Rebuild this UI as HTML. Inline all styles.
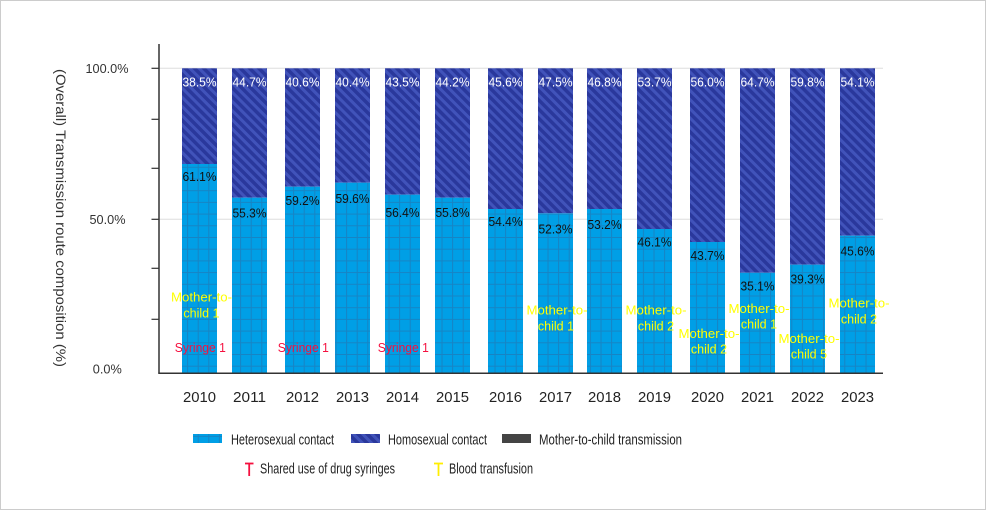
<!DOCTYPE html>
<html><head><meta charset="utf-8"><style>
html,body{margin:0;padding:0;background:#fff;}
svg{display:block;font-family:"Liberation Sans",sans-serif;}
</style></head><body>
<svg width="986" height="510" viewBox="0 0 986 510" xmlns="http://www.w3.org/2000/svg">
<defs>
<pattern id="het" patternUnits="userSpaceOnUse" width="10.6" height="11.7" x="6.9" y="3">
<rect width="10.6" height="11.7" fill="#009fe6"/>
<path d="M0 0.5H10.6M0.5 0V11.7" stroke="#1784c4" stroke-width="1"/>
</pattern>
<pattern id="hom" patternUnits="userSpaceOnUse" width="6.5" height="6.5" patternTransform="rotate(-45)">
<rect width="6.5" height="6.5" fill="#2a389c"/>
<rect width="3" height="6.5" fill="#4153ba"/>
</pattern>
</defs>
<rect x="0.5" y="0.5" width="985" height="509" fill="#fff" stroke="#cccccc" stroke-width="1"/>

<!-- gridlines -->
<line x1="159" y1="68.3" x2="883" y2="68.3" stroke="#dddddd" stroke-width="1"/>
<line x1="159" y1="219.3" x2="883" y2="219.3" stroke="#dddddd" stroke-width="1"/>

<!-- bars -->
<g>
<rect x="182" y="68.3" width="35" height="95.7" fill="url(#hom)"/><rect x="182" y="164" width="35" height="209" fill="url(#het)"/>
<rect x="232" y="68.3" width="35" height="129.4" fill="url(#hom)"/><rect x="232" y="197.7" width="35" height="175.3" fill="url(#het)"/>
<rect x="285" y="68.3" width="35" height="118.4" fill="url(#hom)"/><rect x="285" y="186.7" width="35" height="186.3" fill="url(#het)"/>
<rect x="335" y="68.3" width="35" height="114.4" fill="url(#hom)"/><rect x="335" y="182.7" width="35" height="190.3" fill="url(#het)"/>
<rect x="385" y="68.3" width="35" height="126.4" fill="url(#hom)"/><rect x="385" y="194.7" width="35" height="178.3" fill="url(#het)"/>
<rect x="435" y="68.3" width="35" height="129.4" fill="url(#hom)"/><rect x="435" y="197.7" width="35" height="175.3" fill="url(#het)"/>
<rect x="488" y="68.3" width="35" height="140.7" fill="url(#hom)"/><rect x="488" y="209" width="35" height="164" fill="url(#het)"/>
<rect x="538" y="68.3" width="35" height="145" fill="url(#hom)"/><rect x="538" y="213.3" width="35" height="159.7" fill="url(#het)"/>
<rect x="587" y="68.3" width="35" height="140.7" fill="url(#hom)"/><rect x="587" y="209" width="35" height="164" fill="url(#het)"/>
<rect x="637" y="68.3" width="35" height="160.7" fill="url(#hom)"/><rect x="637" y="229" width="35" height="144" fill="url(#het)"/>
<rect x="690" y="68.3" width="35" height="173.7" fill="url(#hom)"/><rect x="690" y="242" width="35" height="131" fill="url(#het)"/>
<rect x="740" y="68.3" width="35" height="204.4" fill="url(#hom)"/><rect x="740" y="272.7" width="35" height="100.3" fill="url(#het)"/>
<rect x="790" y="68.3" width="35" height="196.4" fill="url(#hom)"/><rect x="790" y="264.7" width="35" height="108.3" fill="url(#het)"/>
<rect x="840" y="68.3" width="35" height="167.4" fill="url(#hom)"/><rect x="840" y="235.7" width="35" height="137.3" fill="url(#het)"/>
</g>

<!-- homo labels -->
<g font-size="13" fill="#ffffff" text-anchor="middle">
<text x="199.5" y="86.3" textLength="34" lengthAdjust="spacingAndGlyphs">38.5%</text>
<text x="249.5" y="86.3" textLength="34" lengthAdjust="spacingAndGlyphs">44.7%</text>
<text x="302.5" y="86.3" textLength="34" lengthAdjust="spacingAndGlyphs">40.6%</text>
<text x="352.5" y="86.3" textLength="34" lengthAdjust="spacingAndGlyphs">40.4%</text>
<text x="402.5" y="86.3" textLength="34" lengthAdjust="spacingAndGlyphs">43.5%</text>
<text x="452.5" y="86.3" textLength="34" lengthAdjust="spacingAndGlyphs">44.2%</text>
<text x="505.5" y="86.3" textLength="34" lengthAdjust="spacingAndGlyphs">45.6%</text>
<text x="555.5" y="86.3" textLength="34" lengthAdjust="spacingAndGlyphs">47.5%</text>
<text x="604.5" y="86.3" textLength="34" lengthAdjust="spacingAndGlyphs">46.8%</text>
<text x="654.5" y="86.3" textLength="34" lengthAdjust="spacingAndGlyphs">53.7%</text>
<text x="707.5" y="86.3" textLength="34" lengthAdjust="spacingAndGlyphs">56.0%</text>
<text x="757.5" y="86.3" textLength="34" lengthAdjust="spacingAndGlyphs">64.7%</text>
<text x="807.5" y="86.3" textLength="34" lengthAdjust="spacingAndGlyphs">59.8%</text>
<text x="857.5" y="86.3" textLength="34" lengthAdjust="spacingAndGlyphs">54.1%</text>
</g>
<!-- hetero labels -->
<g font-size="13" fill="#111111" text-anchor="middle">
<text x="199.5" y="180.8" textLength="34" lengthAdjust="spacingAndGlyphs">61.1%</text>
<text x="249.5" y="217.6" textLength="34" lengthAdjust="spacingAndGlyphs">55.3%</text>
<text x="302.5" y="204.8" textLength="34" lengthAdjust="spacingAndGlyphs">59.2%</text>
<text x="352.5" y="202.8" textLength="34" lengthAdjust="spacingAndGlyphs">59.6%</text>
<text x="402.5" y="216.8" textLength="34" lengthAdjust="spacingAndGlyphs">56.4%</text>
<text x="452.5" y="216.8" textLength="34" lengthAdjust="spacingAndGlyphs">55.8%</text>
<text x="505.5" y="225.8" textLength="34" lengthAdjust="spacingAndGlyphs">54.4%</text>
<text x="555.5" y="233.6" textLength="34" lengthAdjust="spacingAndGlyphs">52.3%</text>
<text x="604.5" y="228.8" textLength="34" lengthAdjust="spacingAndGlyphs">53.2%</text>
<text x="654.5" y="246.6" textLength="34" lengthAdjust="spacingAndGlyphs">46.1%</text>
<text x="707.5" y="259.8" textLength="34" lengthAdjust="spacingAndGlyphs">43.7%</text>
<text x="757.5" y="290.3" textLength="34" lengthAdjust="spacingAndGlyphs">35.1%</text>
<text x="807.5" y="283.6" textLength="34" lengthAdjust="spacingAndGlyphs">39.3%</text>
<text x="857.5" y="255.6" textLength="34" lengthAdjust="spacingAndGlyphs">45.6%</text>
</g>
<!-- mother-to-child labels -->
<g font-size="12.5" fill="#ffff00" text-anchor="middle">
<text x="201.5" y="301.3" textLength="61" lengthAdjust="spacingAndGlyphs">Mother-to-</text><text x="201.5" y="317.3">child 1</text>
<text x="557" y="314.6" textLength="61" lengthAdjust="spacingAndGlyphs">Mother-to-</text><text x="556" y="330.6">child 1</text>
<text x="656" y="314.6" textLength="61" lengthAdjust="spacingAndGlyphs">Mother-to-</text><text x="656" y="330.6">child 2</text>
<text x="709" y="337.9" textLength="61" lengthAdjust="spacingAndGlyphs">Mother-to-</text><text x="709" y="353.6">child 2</text>
<text x="759" y="312.9" textLength="61" lengthAdjust="spacingAndGlyphs">Mother-to-</text><text x="759" y="328.6">child 1</text>
<text x="809" y="342.9" textLength="61" lengthAdjust="spacingAndGlyphs">Mother-to-</text><text x="809" y="358.6">child 5</text>
<text x="859" y="307.3" textLength="61" lengthAdjust="spacingAndGlyphs">Mother-to-</text><text x="859" y="323.3">child 2</text>
</g>
<!-- syringe labels -->
<g font-size="12.5" fill="#f5103f" text-anchor="middle">
<text x="200.3" y="351.8" textLength="51" lengthAdjust="spacingAndGlyphs">Syringe 1</text>
<text x="303.3" y="351.8" textLength="51" lengthAdjust="spacingAndGlyphs">Syringe 1</text>
<text x="403.3" y="351.8" textLength="51" lengthAdjust="spacingAndGlyphs">Syringe 1</text>
</g>

<!-- axes -->
<line x1="159" y1="44" x2="159" y2="373.5" stroke="#333333" stroke-width="1.5"/>
<line x1="158.3" y1="373.3" x2="883" y2="373.3" stroke="#333333" stroke-width="1.5"/>
<g stroke="#333333" stroke-width="1.2">
<line x1="151.5" y1="68.3" x2="159" y2="68.3"/>
<line x1="151.5" y1="119.3" x2="159" y2="119.3"/>
<line x1="151.5" y1="168.3" x2="159" y2="168.3"/>
<line x1="151.5" y1="219.3" x2="159" y2="219.3"/>
<line x1="151.5" y1="268.3" x2="159" y2="268.3"/>
<line x1="151.5" y1="319.3" x2="159" y2="319.3"/>
</g>
<g font-size="13" fill="#333333" text-anchor="middle">
<text x="107" y="73" textLength="43" lengthAdjust="spacingAndGlyphs">100.0%</text>
<text x="107.5" y="224" textLength="36" lengthAdjust="spacingAndGlyphs">50.0%</text>
<text x="107.3" y="373.7" textLength="29" lengthAdjust="spacingAndGlyphs">0.0%</text>
</g>
<text x="0" y="0" font-size="14" fill="#333333" text-anchor="middle" transform="translate(56,218) rotate(90)" textLength="298" lengthAdjust="spacingAndGlyphs">(Overall) Transmission route composition (%)</text>

<!-- years -->
<g font-size="14.5" fill="#222222" text-anchor="middle">
<text x="199.5" y="402" textLength="33" lengthAdjust="spacingAndGlyphs">2010</text>
<text x="249.5" y="402" textLength="33" lengthAdjust="spacingAndGlyphs">2011</text>
<text x="302.5" y="402" textLength="33" lengthAdjust="spacingAndGlyphs">2012</text>
<text x="352.5" y="402" textLength="33" lengthAdjust="spacingAndGlyphs">2013</text>
<text x="402.5" y="402" textLength="33" lengthAdjust="spacingAndGlyphs">2014</text>
<text x="452.5" y="402" textLength="33" lengthAdjust="spacingAndGlyphs">2015</text>
<text x="505.5" y="402" textLength="33" lengthAdjust="spacingAndGlyphs">2016</text>
<text x="555.5" y="402" textLength="33" lengthAdjust="spacingAndGlyphs">2017</text>
<text x="604.5" y="402" textLength="33" lengthAdjust="spacingAndGlyphs">2018</text>
<text x="654.5" y="402" textLength="33" lengthAdjust="spacingAndGlyphs">2019</text>
<text x="707.5" y="402" textLength="33" lengthAdjust="spacingAndGlyphs">2020</text>
<text x="757.5" y="402" textLength="33" lengthAdjust="spacingAndGlyphs">2021</text>
<text x="807.5" y="402" textLength="33" lengthAdjust="spacingAndGlyphs">2022</text>
<text x="857.5" y="402" textLength="33" lengthAdjust="spacingAndGlyphs">2023</text>
</g>

<!-- legend -->
<rect x="193" y="434" width="29" height="9" fill="url(#het)"/>
<rect x="351" y="434" width="29" height="9" fill="url(#hom)"/>
<rect x="502" y="434" width="29" height="9" fill="#444444"/>
<g font-size="14.5" fill="#222222">
<text x="231" y="444.3" textLength="103" lengthAdjust="spacingAndGlyphs">Heterosexual contact</text>
<text x="388" y="444.3" textLength="99" lengthAdjust="spacingAndGlyphs">Homosexual contact</text>
<text x="539" y="444.3" textLength="143" lengthAdjust="spacingAndGlyphs">Mother-to-child transmission</text>
<text x="260" y="473.5" textLength="135" lengthAdjust="spacingAndGlyphs">Shared use of drug syringes</text>
<text x="449" y="473.5" textLength="84" lengthAdjust="spacingAndGlyphs">Blood transfusion</text>
</g>
<g stroke="#f5103f" stroke-width="1.8">
<line x1="245" y1="463.5" x2="253.5" y2="463.5"/>
<line x1="249.2" y1="463" x2="249.2" y2="476"/>
</g>
<g stroke="#ffee00" stroke-width="1.8">
<line x1="434" y1="463.5" x2="443" y2="463.5"/>
<line x1="438.5" y1="463" x2="438.5" y2="476"/>
</g>
</svg>
</body></html>
